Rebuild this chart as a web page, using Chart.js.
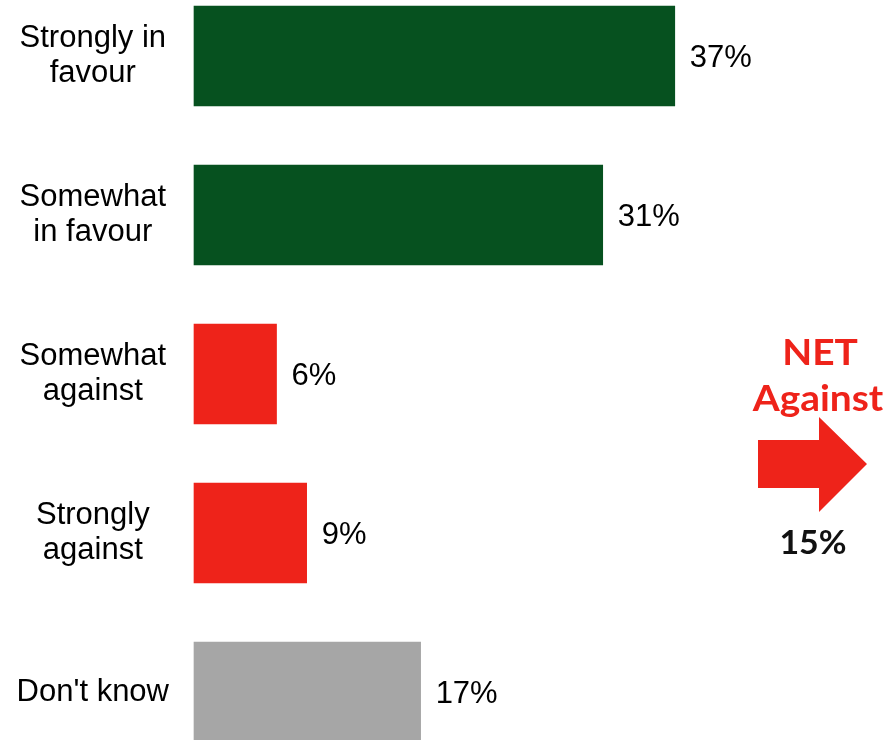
<!DOCTYPE html>
<html>
<head>
<meta charset="utf-8">
<script src="https://cdn.jsdelivr.net/npm/chart.js@4.4.1/dist/chart.umd.min.js"></script>
<style>
    html, body { margin: 0; padding: 0; background: #ffffff; }
    #wrap { width: 889px; height: 740px; position: relative; }
</style>
</head>
<body>
<div id="wrap"><canvas id="bar-chart"></canvas></div>
<script>
var categories = [
    ["Strongly in", "favour"],
    ["Somewhat", "in favour"],
    ["Somewhat", "against"],
    ["Strongly", "against"],
    ["Don't know"]
];
var shares = [36.7, 31.2, 6.3, 8.6, 17.3];
var barColors = ["#06511f", "#06511f", "#ee231a", "#ee231a", "#a6a6a6"];
var netLabel = ["NET", "Against"];
var netValue = "15%";

var labelFont = "'Liberation Sans', Arial, sans-serif";
var netFont = "Lato, 'Open Sans', sans-serif";

// value labels at the end of each bar
var valueLabels = {
    id: 'valueLabels',
    afterDatasetsDraw: function (chart) {
        var ctx = chart.ctx;
        var meta = chart.getDatasetMeta(0);
        ctx.save();
        ctx.font = "31px " + labelFont;
        ctx.fillStyle = "#000000";
        ctx.textAlign = "left";
        ctx.textBaseline = "middle";
        for (var i = 0; i < meta.data.length; i++) {
            var bar = meta.data[i];
            ctx.fillText(Math.round(shares[i]) + "%", bar.x + 15, bar.y + 2);
        }
        ctx.restore();
    }
};

function wideText(ctx, text, x, y, sx) {
    ctx.save();
    ctx.translate(x, y);
    ctx.scale(sx, 1);
    ctx.fillText(text, 0, 0);
    ctx.restore();
}

// the NET against arrow on the right
var netArrow = {
    id: 'netArrow',
    afterDraw: function (chart) {
        var ctx = chart.ctx;
        ctx.save();
        ctx.fillStyle = "#ee231a";
        ctx.beginPath();
        ctx.moveTo(758, 440);
        ctx.lineTo(819, 440);
        ctx.lineTo(819, 417);
        ctx.lineTo(867, 464);
        ctx.lineTo(819, 512);
        ctx.lineTo(819, 488);
        ctx.lineTo(758, 488);
        ctx.closePath();
        ctx.fill();

        ctx.textAlign = "center";
        ctx.textBaseline = "alphabetic";
        ctx.font = "bold 36px " + netFont;
        wideText(ctx, netLabel[0], 820, 365, 1.08);
        wideText(ctx, netLabel[1], 818, 411, 1.08);
        ctx.fillStyle = "#111111";
        ctx.font = "bold 32px " + netFont;
        wideText(ctx, netValue, 813, 554, 1.06);
        ctx.restore();
    }
};

new Chart(document.getElementById("bar-chart"), {
    type: 'bar',
    data: {
        labels: categories,
        datasets: [
            {
                data: shares,
                backgroundColor: barColors,
                borderWidth: 0,
                barThickness: 100,
                clip: false
            }
        ]
    },
    options: {
        indexAxis: 'y',
        responsive: true,
        maintainAspectRatio: false,
        animation: false,
        layout: {
            padding: { left: 0, right: 40, top: 56, bottom: 48 }
        },
        plugins: {
            legend: { display: false },
            tooltip: { enabled: false }
        },
        scales: {
            x: {
                min: 0,
                max: 50,
                display: false,
                grid: { display: false }
            },
            y: {
                offset: false,
                border: { display: false },
                grid: { display: false },
                afterFit: function (scale) {
                    scale.width = 194;
                    // let the layout padding alone place the first and last bar
                    scale.paddingTop = 0;
                    scale.paddingBottom = 0;
                },
                ticks: {
                    crossAlign: 'center',
                    padding: 17,
                    color: "#000000",
                    font: { family: labelFont, size: 31, lineHeight: 1.13 }
                }
            }
        }
    },
    plugins: [valueLabels, netArrow]
});
</script>
</body>
</html>
